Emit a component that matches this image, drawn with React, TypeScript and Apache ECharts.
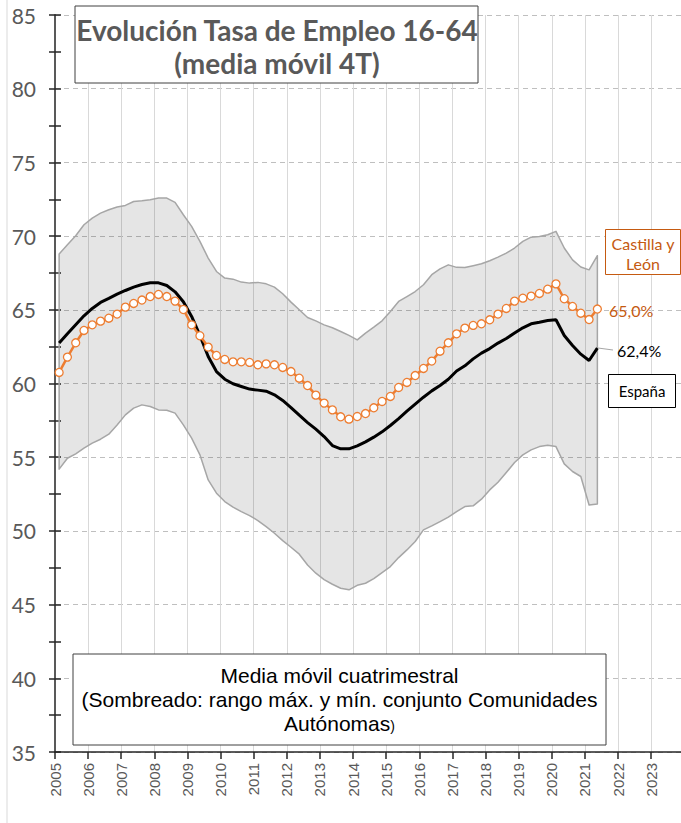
import React, { useEffect, useRef } from "react";
import * as echarts from "echarts";

// Quarterly moving averages, 2005 T1 … 2021 T2 (points plotted mid-quarter)
const firstQuarter = 2005.125;
const quarterStep = 0.25;

const espana = [
  62.74, 63.37, 63.98, 64.59, 65.09, 65.5, 65.77, 66.06, 66.31, 66.54, 66.72, 66.83, 66.83, 66.65, 66.22, 65.55,
  64.55, 63.26, 61.83, 60.81, 60.29, 59.98, 59.8, 59.62, 59.55, 59.48, 59.23, 58.85, 58.37, 57.85, 57.35, 56.9, 56.4,
  55.79, 55.57, 55.57, 55.77, 56.04, 56.36, 56.72, 57.15, 57.62, 58.12, 58.6, 59.07, 59.5, 59.86, 60.29, 60.85,
  61.2, 61.67, 62.06, 62.37, 62.74, 63.05, 63.42, 63.78, 64.05, 64.16, 64.28, 64.32, 63.26, 62.58, 61.99, 61.56, 62.4,
];

const castillaLeon = [
  60.75, 61.79, 62.76, 63.6, 63.98, 64.23, 64.43, 64.71, 65.18, 65.43, 65.66, 65.9, 66.04, 65.9, 65.59, 65.02,
  63.98, 63.24, 62.47, 61.9, 61.63, 61.47, 61.47, 61.43, 61.27, 61.33, 61.27, 61.09, 60.81, 60.36, 59.86, 59.21, 58.67,
  58.21, 57.74, 57.58, 57.76, 57.96, 58.35, 58.78, 59.12, 59.73, 60.07, 60.54, 61.02, 61.52, 62.19, 62.76, 63.37,
  63.76, 63.94, 64.05, 64.32, 64.71, 65.09, 65.59, 65.79, 65.93, 66.11, 66.4, 66.76, 65.75, 65.23, 64.77, 64.34, 65.05,
];

const maxCCAA = [
  68.78, 69.41, 70.02, 70.77, 71.22, 71.56, 71.79, 71.97, 72.08, 72.35, 72.4, 72.47, 72.58, 72.58, 72.29, 71.45,
  70.66, 69.64, 68.51, 67.6, 67.15, 67.08, 66.88, 66.81, 66.86, 66.76, 66.54, 66.09, 65.52, 65.0, 64.48, 64.25, 63.98,
  63.78, 63.53, 63.26, 62.96, 63.42, 63.82, 64.25, 64.89, 65.57, 65.9, 66.24, 66.7, 67.38, 67.78, 68.05, 67.88,
  67.87, 67.99, 68.12, 68.33, 68.57, 68.85, 69.19, 69.64, 69.93, 69.97, 70.09, 70.32, 69.19, 68.39, 67.9, 67.71, 68.67,
];

const minCCAA = [
  54.19, 54.93, 55.23, 55.61, 55.95, 56.22, 56.56, 57.19, 57.87, 58.33, 58.55, 58.44, 58.21, 58.19, 57.99, 57.19,
  56.29, 55.16, 53.46, 52.56, 51.99, 51.61, 51.31, 51.04, 50.7, 50.29, 49.84, 49.34, 48.89, 48.42, 47.69, 47.13, 46.7,
  46.38, 46.11, 46.0, 46.31, 46.45, 46.76, 47.17, 47.58, 48.19, 48.71, 49.28, 50.07, 50.34, 50.63, 50.93, 51.31,
  51.65, 51.7, 52.15, 52.78, 53.3, 53.96, 54.64, 55.16, 55.5, 55.72, 55.81, 55.72, 54.55, 54.03, 53.69, 51.76, 51.83,
];

const titleLines = ["Evolución Tasa de Empleo 16-64", "(media móvil 4T)"];
const noteLines = ["Media móvil cuatrimestral", "(Sombreado: rango máx. y mín. conjunto Comunidades", "Autónomas"];
const labelCyL = "65,0%";
const labelEsp = "62,4%";
const nameCyL = "Castilla y\nLeón";
const nameEsp = "España";

const ORANGE = "#ed7d31";
const ORANGE_TXT = "#c55a11";
const GRAY = "#a6a6a6";
const ARIAL = "Liberation Sans, Arial, sans-serif";

export default function App() {
  const ref = useRef<HTMLDivElement>(null);

  useEffect(() => {
    const chart = echarts.init(ref.current!, null, { renderer: "svg" });
    const xs = espana.map((_, i) => firstQuarter + quarterStep * i);
    const pair = (arr: number[]) => arr.map((v, i) => [xs[i], v]);
    const rangeData = xs.map((x, i) => [x, minCCAA[i], maxCCAA[i]]);

    const tickStyle = { color: "#262626", width: 1.5 };

    const option: any = {
      animation: false,
      backgroundColor: "#ffffff",
      grid: { left: 55, right: 0, top: 15, bottom: 71 },
      xAxis: {
        type: "value",
        min: 2005,
        max: 2023.9,
        interval: 1,
        axisLine: { lineStyle: { color: "#262626", width: 1.5 } },
        axisTick: { length: 7, lineStyle: tickStyle },
        axisLabel: {
          rotate: 90,
          margin: 11,
          color: "#595959",
          fontFamily: ARIAL,
          fontSize: 15,
          showMaxLabel: false,
          formatter: (v: number) => (Number.isInteger(v) ? String(v) : ""),
        },
        splitLine: { show: true, lineStyle: { color: "#d9d9d9", width: 1 } },
      },
      yAxis: [
        {
          type: "value",
          min: 35,
          max: 85,
          interval: 5,
          position: "left",
          axisLine: { show: true, lineStyle: { color: "#595959", width: 2 } },
          axisTick: { show: true, length: 6, lineStyle: tickStyle },
          minorTick: { show: true, splitNumber: 2, length: 6, lineStyle: tickStyle },
          axisLabel: { color: "#595959", fontSize: 21, fontFamily: "Lato, sans-serif", margin: 19 },
          splitLine: { show: true, lineStyle: { color: "#bfbfbf", type: [5, 4], width: 1 } },
        },
        {
          type: "value",
          min: 35,
          max: 85,
          interval: 5,
          position: "left",
          axisLine: { show: false },
          axisTick: { show: true, inside: true, length: 6, lineStyle: tickStyle },
          minorTick: { show: true, splitNumber: 2, length: 6, lineStyle: tickStyle },
          axisLabel: { show: false },
          splitLine: { show: false },
        },
      ],
      series: [
        {
          name: "Rango CCAA",
          type: "custom",
          data: rangeData,
          encode: { x: 0, y: [1, 2] },
          z: 1,
          renderItem: (params: any, api: any) => {
            if (params.dataIndex !== 0) return null;
            const upper = rangeData.map((d) => api.coord([d[0], d[2]]));
            const lower = rangeData.map((d) => api.coord([d[0], d[1]])).reverse();
            return {
              type: "polygon",
              shape: { points: upper.concat(lower) },
              style: { fill: "rgba(0,0,0,0.1)", stroke: GRAY, lineWidth: 1.5, lineJoin: "round" },
            };
          },
        },
        {
          name: "España",
          type: "line",
          data: pair(espana),
          symbol: "none",
          lineStyle: { color: "#000000", width: 3 },
          z: 3,
        },
        {
          name: "Castilla y León",
          type: "line",
          data: pair(castillaLeon),
          symbol: "circle",
          symbolSize: 8,
          showSymbol: true,
          lineStyle: { color: ORANGE, width: 2.5 },
          itemStyle: { color: "#ffffff", borderColor: ORANGE, borderWidth: 1.3 },
          z: 4,
        },
      ],
      graphic: [
        {
          type: "line",
          shape: { x1: 7, y1: 0, x2: 7, y2: 823 },
          style: { stroke: "#d9d9d9", lineWidth: 1 },
          silent: true,
        },
        {
          type: "rect",
          shape: { x: 75, y: 6, width: 403, height: 77 },
          style: { fill: "#ffffff", stroke: "#404040", lineWidth: 1 },
          z: 10,
        },
        ...titleLines.map((t, k) => ({
          type: "text",
          x: 277,
          y: 30 + k * 33,
          style: {
            text: t,
            align: "center",
            verticalAlign: "middle",
            fill: "#595959",
            font: "bold 28px Lato, sans-serif",
          },
          z: 11,
        })),
        {
          type: "rect",
          shape: { x: 73, y: 654, width: 533, height: 91 },
          style: { fill: "#ffffff", stroke: "#404040", lineWidth: 1 },
          z: 10,
        },
        ...noteLines.map((t, k) => ({
          type: "text",
          x: 339.5,
          y: 675 + k * 24,
          style: {
            text: k === 2 ? `{a|${t}}{b|)}` : t,
            align: "center",
            verticalAlign: "middle",
            fill: "#000000",
            font: `21px ${ARIAL}`,
            rich: {
              a: { fontSize: 21, fontFamily: ARIAL, fill: "#000" },
              b: { fontSize: 14, fontFamily: ARIAL, fill: "#000", padding: [6, 0, 0, 0] },
            },
          },
          z: 11,
        })),
        {
          type: "rect",
          shape: { x: 605.5, y: 229.5, width: 75, height: 45 },
          style: { fill: "#ffffff", stroke: ORANGE_TXT, lineWidth: 1 },
          z: 10,
        },
        {
          type: "text",
          x: 643,
          y: 253,
          style: {
            text: nameCyL,
            align: "center",
            verticalAlign: "middle",
            fill: ORANGE_TXT,
            font: "16px Lato, sans-serif",
            lineHeight: 20,
          },
          z: 11,
        },
        {
          type: "text",
          x: 609,
          y: 310,
          style: {
            text: labelCyL,
            align: "left",
            verticalAlign: "middle",
            fill: ORANGE_TXT,
            font: "16px Lato, sans-serif",
          },
          z: 11,
        },
        {
          type: "line",
          shape: { x1: 598, y1: 348, x2: 613, y2: 350 },
          style: { stroke: GRAY, lineWidth: 1 },
          z: 11,
        },
        {
          type: "text",
          x: 617,
          y: 350,
          style: {
            text: labelEsp,
            align: "left",
            verticalAlign: "middle",
            fill: "#000000",
            font: "16px Lato, sans-serif",
          },
          z: 11,
        },
        {
          type: "rect",
          shape: { x: 608.5, y: 374.5, width: 67, height: 33 },
          style: { fill: "#ffffff", stroke: "#000000", lineWidth: 1 },
          z: 10,
        },
        {
          type: "text",
          x: 642,
          y: 391,
          style: {
            text: nameEsp,
            align: "center",
            verticalAlign: "middle",
            fill: "#000000",
            font: "15px Lato, sans-serif",
          },
          z: 11,
        },
      ],
    };

    chart.setOption(option);
    return () => chart.dispose();
  }, []);

  return (
    <div
      ref={ref}
      style={{ position: "fixed", left: 0, top: 0, width: 681, height: 823, background: "#fff" }}
    />
  );
}
